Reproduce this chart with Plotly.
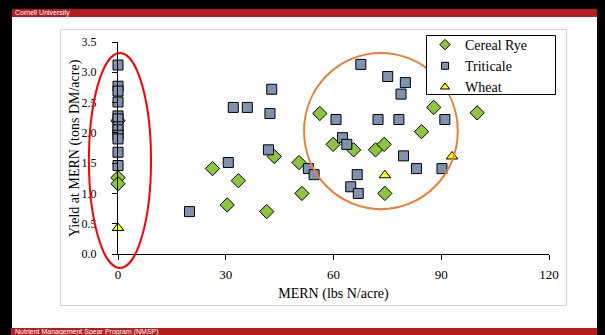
import plotly.graph_objects as go

# ---------------- data ----------------
rye_x = [0, 0, 0, 26.3, 30.4, 33.5, 41.4, 43.5, 50.4, 51.2, 56.2, 59.9, 65.6, 71.7, 74.1, 74.3, 84.5, 87.9, 100.0]
rye_y = [2.2, 1.26, 1.16, 1.41, 0.81, 1.21, 0.70, 1.61, 1.51, 1.0, 2.32, 1.81, 1.72, 1.72, 1.81, 1.0, 2.02, 2.42, 2.33]

tri_x = [0, 0, 0, 0, 0, 0, 0, 0, 0, 0, 0, 0,
         19.9, 30.7, 32.1, 36.0, 42.3, 42.8, 41.9, 53.0, 54.6, 60.7, 62.5, 63.7,
         67.6, 75.1, 80.0, 78.8, 72.4, 78.2, 91.0, 79.5, 66.6, 83.1, 90.2, 64.8, 66.9]
tri_y = [3.12, 2.77, 2.69, 2.51, 2.28, 2.23, 2.1, 2.05, 1.96, 1.9, 1.68, 1.46,
         0.70, 1.51, 2.42, 2.42, 2.32, 2.72, 1.72, 1.41, 1.31, 2.22, 1.92, 1.81,
         3.13, 2.93, 2.83, 2.64, 2.22, 2.22, 2.22, 1.62, 1.31, 1.41, 1.41, 1.11, 1.0]

wheat_x = [0, 74.3, 93.0]
wheat_y = [0.43, 1.30, 1.61]

x_ticks = [0, 30, 60, 90, 120]
y_ticks = [0.0, 0.5, 1.0, 1.5, 2.0, 2.5, 3.0, 3.5]
X_RANGE = [0, 120]
Y_RANGE = [0, 3.5]

# ---------------- geometry ----------------
W, H = 605, 335
ML, MR, MT, MB = 118, 56, 42, 81
PW = W - ML - MR
PH = H - MT - MB


def px_x(px):
    return (px - ML) / PW


def px_y(py):
    return (H - MB - py) / PH


def dx(v):
    return (v - X_RANGE[0]) / (X_RANGE[1] - X_RANGE[0])


def dy(v):
    return (v - Y_RANGE[0]) / (Y_RANGE[1] - Y_RANGE[0])


SERIF = "Liberation Serif, Times New Roman, serif"
SANS = "Liberation Sans, Arial, sans-serif"

series = [
    ("Cereal Rye", rye_x, rye_y, "diamond", 11, 8, "#8CC63F"),
    ("Triticale", tri_x, tri_y, "square", 10, 7, "#7F93B1"),
    ("Wheat", wheat_x, wheat_y, "triangle-up", 10, 8, "#FFFF00"),
]

fig = go.Figure()
for name, xs, ys, sym, size, lsize, col in series:
    fig.add_trace(go.Scatter(
        x=xs, y=ys, mode="markers", name=name, cliponaxis=False, showlegend=False,
        legendgroup=name,
        marker=dict(symbol=sym, size=size, color=col, line=dict(color="black", width=1))))
for name, xs, ys, sym, size, lsize, col in series:
    # legend entry with smaller symbol, like the reference
    fig.add_trace(go.Scatter(
        x=[None], y=[None], mode="markers", name=name, legendgroup=name,
        marker=dict(symbol=sym, size=lsize, color=col, line=dict(color="black", width=1))))

shapes = [
    dict(type="rect", xref="paper", yref="paper", layer="below",
         x0=px_x(12), x1=px_x(597), y0=px_y(17), y1=px_y(328),
         fillcolor="white", line=dict(width=0)),
    dict(type="rect", xref="paper", yref="paper", layer="below",
         x0=px_x(12), x1=px_x(597), y0=px_y(9), y1=px_y(17),
         fillcolor="#B51D1F", line=dict(width=0)),
    dict(type="rect", xref="paper", yref="paper", layer="below",
         x0=px_x(11), x1=px_x(597), y0=px_y(328), y1=px_y(335),
         fillcolor="#B51D1F", line=dict(width=0)),
    dict(type="rect", xref="paper", yref="paper", layer="below",
         x0=px_x(60.5), x1=px_x(566.5), y0=px_y(29.5), y1=px_y(305.5),
         fillcolor="rgba(0,0,0,0)", line=dict(color="#D4D4D4", width=1)),
    dict(type="circle", xref="x domain", yref="y domain",
         x0=dx(-8.1), x1=dx(9.2), y0=dy(-0.23), y1=dy(3.32),
         line=dict(color="#FF0000", width=2)),
    dict(type="circle", xref="x domain", yref="y domain",
         x0=dx(51.8), x1=dx(94.6), y0=dy(0.74), y1=dy(3.32),
         line=dict(color="#ED7D31", width=2)),
    # legend box
    dict(type="rect", xref="paper", yref="paper", layer="above",
         x0=px_x(426.5), x1=px_x(555.5), y0=px_y(35.5), y1=px_y(94.5),
         fillcolor="white", line=dict(color="black", width=1)),
]

annotations = [
    dict(text="Cornell University", xref="paper", yref="paper",
         x=px_x(13), y=px_y(13), xanchor="left", yanchor="middle",
         showarrow=False, font=dict(family=SANS, size=7, color="white")),
    dict(text="Nutrient Management Spear Program (NMSP)", xref="paper", yref="paper",
         x=px_x(13), y=px_y(331.5), xanchor="left", yanchor="middle",
         showarrow=False, font=dict(family=SANS, size=7, color="white")),
    dict(text="Yield at MERN (tons DM/acre)", xref="paper", yref="paper",
         x=px_x(75), y=px_y(148), xanchor="center", yanchor="middle", textangle=-90,
         showarrow=False, font=dict(family=SERIF, size=14, color="black")),
]

fig.update_layout(
    width=W, height=H,
    margin=dict(l=ML, r=MR, t=MT, b=MB, pad=0),
    paper_bgcolor="black", plot_bgcolor="white",
    font=dict(family=SERIF, size=13, color="black"),
    showlegend=True,
    legend=dict(x=px_x(425), y=px_y(29), xanchor="left", yanchor="top",
                bgcolor="rgba(0,0,0,0)", borderwidth=0,
                font=dict(family=SERIF, size=14, color="black"),
                tracegroupgap=0, itemwidth=30),
    shapes=shapes, annotations=annotations,
    xaxis=dict(range=X_RANGE, tickvals=x_ticks, ticktext=[str(v) for v in x_ticks],
               showgrid=False, zeroline=False, showline=True, linecolor="black",
               linewidth=1, ticks="outside", ticklen=5, tickcolor="black",
               ticklabelstandoff=3, tickfont=dict(family=SERIF, size=13),
               title=dict(text="MERN (lbs N/acre)", font=dict(family=SERIF, size=14),
                          standoff=7)),
    yaxis=dict(range=Y_RANGE, tickvals=y_ticks, ticktext=[f"{v:.1f}" for v in y_ticks],
               showgrid=False, zeroline=False, showline=True, linecolor="black",
               linewidth=1, ticks="outside", ticklen=5, tickcolor="black",
               ticklabelstandoff=13, tickfont=dict(family=SERIF, size=12)),
)

fig.write_html("out.html", config={"displayModeBar": False},
               post_script="document.body.style.margin='0';document.body.style.padding='0';")
